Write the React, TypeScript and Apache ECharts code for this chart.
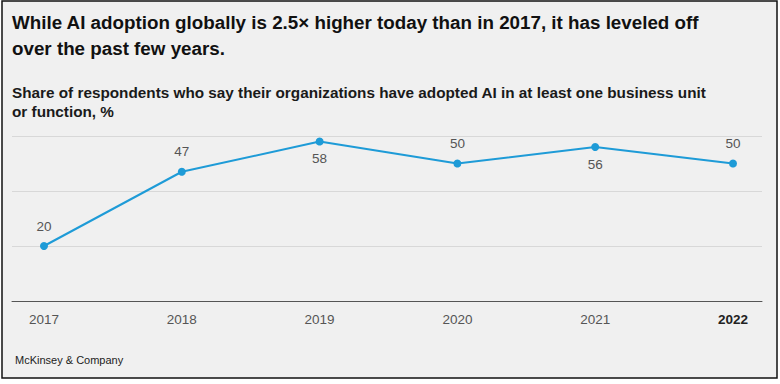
import React, { useEffect, useRef } from "react";
import * as echarts from "echarts";

const years = ["2017", "2018", "2019", "2020", "2021", "2022"];
const adoption = [20, 47, 58, 50, 56, 50];
const labelSide = ["top", "top", "bottom", "top", "bottom", "top"];
const yTicks = [0, 20, 40, 60];

const titleText =
  "While AI adoption globally is 2.5× higher today than in 2017, it has leveled off\nover the past few years.";
const subtitleText =
  "Share of respondents who say their organizations have adopted AI in at least one business unit\nor function, %";
const sourceText = "McKinsey & Company";

const FONT = "'Liberation Sans', Arial, sans-serif";

export default function App() {
  const ref = useRef<HTMLDivElement>(null);
  useEffect(() => {
    if (!ref.current) return;
    const chart = echarts.init(ref.current, null, { renderer: "svg" });
    const yMin = yTicks[0];
    const yMax = yTicks[yTicks.length - 1];
    const yInterval = yTicks[1] - yTicks[0];
    chart.setOption({
      animation: false,
      backgroundColor: "#ffffff",
      textStyle: { fontFamily: FONT },
      graphic: [
        {
          type: "rect",
          z: -10,
          shape: { x: 2, y: 1, width: 775, height: 377 },
          style: { fill: "#f0f0f0", stroke: "#111", lineWidth: 1.5 },
          silent: true,
        },
        {
          type: "text",
          left: 15,
          top: 354,
          style: { text: sourceText, fontSize: 11, fill: "#222", fontFamily: FONT },
        },
      ],
      title: [
        {
          text: titleText,
          left: 7,
          top: 4,
          textStyle: { fontSize: 18.8, fontWeight: "bold", color: "#111", lineHeight: 26, fontFamily: FONT },
        },
        {
          text: subtitleText,
          left: 7,
          top: 78,
          textStyle: { fontSize: 15.3, fontWeight: 600, color: "#1a1a1a", lineHeight: 19, fontFamily: FONT },
        },
      ],
      grid: [
        { left: 12, right: 18, top: 136, bottom: 83 },
        { left: 44, right: 47, top: 136, bottom: 83 },
      ],
      xAxis: [
        {
          gridIndex: 0,
          type: "value",
          min: 0,
          max: 1,
          show: true,
          axisLine: { show: true, onZero: false, lineStyle: { color: "#555", width: 1 } },
          axisTick: { show: false },
          axisLabel: { show: false },
          splitLine: { show: false },
        },
        {
          gridIndex: 1,
          type: "category",
          data: years,
          boundaryGap: false,
          axisLine: { show: false },
          axisTick: { show: false },
          splitLine: { show: false },
          axisLabel: {
            margin: 11,
            fontSize: 13.5,
            color: "#555",
            fontFamily: FONT,
            formatter: (v: string, i: number) =>
              i === years.length - 1 ? `{b|${v}}` : v,
            rich: { b: { fontWeight: "bold", color: "#222", fontSize: 13.5, fontFamily: FONT } },
          },
        },
      ],
      yAxis: [
        {
          gridIndex: 0,
          type: "value",
          min: yMin,
          max: yMax,
          interval: yInterval,
          axisLine: { show: false },
          axisTick: { show: false },
          axisLabel: { show: false },
          splitLine: { show: true, lineStyle: { color: "#d8d8d8", width: 1 } },
        },
        {
          gridIndex: 1,
          type: "value",
          min: yMin,
          max: yMax,
          interval: yInterval,
          show: false,
          splitLine: { show: false },
        },
      ],
      series: [
        {
          type: "line",
          xAxisIndex: 1,
          yAxisIndex: 1,
          data: adoption.map((v, i) => ({
            value: v,
            label: { position: labelSide[i], distance: labelSide[i] === "top" ? 9 : 6 },
          })),
          symbol: "circle",
          symbolSize: 8,
          lineStyle: { color: "#1e9bd7", width: 2 },
          itemStyle: { color: "#1e9bd7" },
          label: {
            show: true,
            fontSize: 13.5,
            color: "#555",
            fontFamily: FONT,
          },
        },
      ],
    });
    return () => chart.dispose();
  }, []);
  return (
    <div style={{ position: "fixed", left: 0, top: 0, width: 780, height: 384, background: "#fff" }}>
      <div ref={ref} style={{ width: 780, height: 384 }} />
    </div>
  );
}
